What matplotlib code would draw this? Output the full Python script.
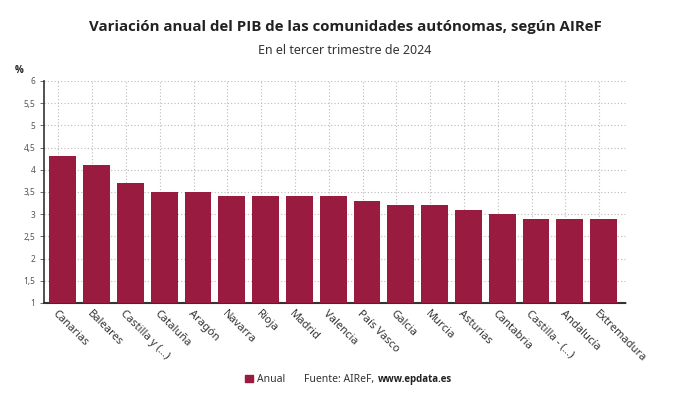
import matplotlib.pyplot as plt
from matplotlib.ticker import FuncFormatter

plt.rcParams['font.family'] = ['Noto Sans', 'DejaVu Sans']

regiones = ['Canarias', 'Baleares', 'Castilla y (...)', 'Cataluña', 'Aragón', 'Navarra',
            'Rioja', 'Madrid', 'Valencia', 'País Vasco', 'Galcia', 'Murcia', 'Asturias',
            'Cantabria', 'Castilla - (...)', 'Andalucía', 'Extremadura']
anual = [4.3, 4.1, 3.7, 3.5, 3.5, 3.4, 3.4, 3.4, 3.4, 3.3, 3.2, 3.2, 3.1, 3.0, 2.9, 2.9, 2.9]

color = '#991b3f'
bold_font = ['Open Sans', 'DejaVu Sans']

fig = plt.figure(figsize=(6.9, 4.05), dpi=100)
ax = fig.add_axes([0.064, 0.252, 0.845, 0.548])

x = list(range(len(regiones)))
ax.bar(x, [v - 1 for v in anual], bottom=1, width=0.79, color=color, zorder=3)

ax.set_xlim(-0.55, 16.7)
ax.set_ylim(1, 6)
ax.set_yticks([1 + 0.5 * i for i in range(11)])
ax.yaxis.set_major_formatter(FuncFormatter(lambda v, p: ('%g' % v).replace('.', ',')))
ax.tick_params(axis='y', labelsize=6, colors='#555555', length=3, width=0.6)

ax.set_xticks([i - 0.13 for i in x])
ax.set_xticklabels(regiones, rotation=-45, ha='left', va='top', rotation_mode='anchor',
                   fontsize=8, color='#333333')
ax.tick_params(axis='x', length=0, pad=4)

ax.grid(True, linestyle=(0, (1, 2)), color='#bbbbbb', linewidth=0.8, zorder=0)

for s in ['top', 'right']:
    ax.spines[s].set_visible(False)
ax.spines['left'].set_color('#333333')
ax.spines['left'].set_linewidth(1.2)
ax.spines['bottom'].set_color('#333333')
ax.spines['bottom'].set_linestyle((0, (1, 1)))
ax.spines['bottom'].set_linewidth(1.5)

fig.text(0.5, 0.933, 'Variación anual del PIB de las comunidades autónomas, según AIReF',
         ha='center', va='center', fontsize=10.8, fontweight='bold', color='#222222',
         family=bold_font)
fig.text(0.5, 0.876, 'En el tercer trimestre de 2024', ha='center', va='center',
         fontsize=9, color='#333333')
fig.text(0.022, 0.827, '%', fontsize=7, fontweight='bold', color='#222222', va='center',
         family=bold_font)

# leyenda y fuente
fig.patches.append(plt.Rectangle((0.355, 0.056), 0.011, 0.019, transform=fig.transFigure,
                                 color=color, figure=fig))
fig.text(0.372, 0.064, 'Anual', fontsize=7.5, color='#333333', va='center')
fig.text(0.440, 0.064, 'Fuente: AIReF,', fontsize=7.5, color='#333333', va='center')
fig.text(0.547, 0.064, 'www.epdata.es', fontsize=7, color='#222222', va='center',
         fontweight='bold', family=bold_font)

plt.savefig('out.png')
